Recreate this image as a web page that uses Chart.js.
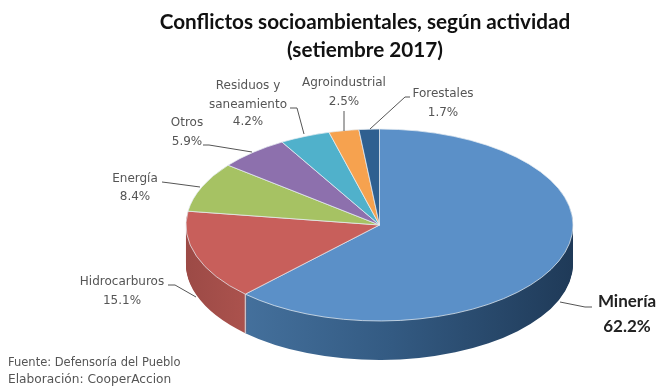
<!DOCTYPE html>
<html>
<head>
<meta charset="utf-8">
<style>
html,body{margin:0;padding:0;background:#fff}
#wrap{position:relative;width:661px;height:386px}
</style>
<script src="https://cdn.jsdelivr.net/npm/chart.js@4"></script>
</head>
<body>
<div id="wrap"><canvas id="c" width="661" height="386"></canvas></div>
<script>
// Conflict shares by activity, clockwise from twelve o'clock
const categories = ['Minería','Hidrocarburos','Energía','Otros','Residuos y saneamiento','Agroindustrial','Forestales'];
const shares = [62.2,15.1,8.4,5.9,4.2,2.5,1.7];
const topColors = ['#5b90c8','#c85f5b','#a6c263','#8d70ad','#50b1cb','#f6a24f','#2f6090'];
const titleLines = ['Conflictos socioambientales, según actividad','(setiembre 2017)'];
const footerLines = ['Fuente: Defensoría del Pueblo','Elaboración: CooperAccion'];

// Tilted-disc projection
const squash = 0.496;
const radius = 193.5;
const centerX = 379.5;
const centerY = 225;
const thickness = 39;

const labelFont = '12px "DejaVu Sans"';
const labelInk = '#555555';
const calloutLayout = [
  {lines:['Minería'], at:[627,302], valueAt:[627,327], strong:true, leader:[[592,307],[585,307],[560,302]]},
  {lines:['Hidrocarburos'], at:[122,282], valueAt:[122,301], leader:[[168,285],[175,285],[196,297]]},
  {lines:['Energía'], at:[135,179], valueAt:[135,197], leader:[[162,182],[170,183],[200,187]]},
  {lines:['Otros'], at:[187,123], valueAt:[187,142], leader:[[203,145],[209,145],[252,152]]},
  {lines:['Residuos y','saneamiento'], at:[248,86], valueAt:[248,122], leader:[[290,108],[297,108],[304,134]]},
  {lines:['Agroindustrial'], at:[344,83], valueAt:[344,102], leader:[[344,111],[344,131]]},
  {lines:['Forestales'], at:[443,94], valueAt:[443,113], leader:[[410,97],[405,97],[370,129]]}
];

function project(ctx, chart){
  const arc = chart.getDatasetMeta(0).data[0];
  ctx.translate(0, centerY);
  ctx.scale(1, squash);
  ctx.translate(0, -arc.y);
}

const tiltedDisc = {
  id:'tiltedDisc',
  beforeDatasetsDraw(chart){
    const ctx = chart.ctx;
    const arcs = chart.getDatasetMeta(0).data;

    // Side wall: the first two slices face the viewer
    const blueWall = ctx.createLinearGradient(245,0,573,0);
    blueWall.addColorStop(0,'#44709c');
    blueWall.addColorStop(0.45,'#335a82');
    blueWall.addColorStop(1,'#1f3a58');
    const redWall = ctx.createLinearGradient(186,0,245,0);
    redWall.addColorStop(0,'#9c4a46');
    redWall.addColorStop(1,'#ab524d');
    const walls = [blueWall, redWall];

    for(let dy = thickness; dy > 0; dy -= 1){
      ctx.save();
      ctx.translate(0, dy);
      project(ctx, chart);
      [0,1].forEach(i=>{
        const a = arcs[i];
        const keep = a.options;
        a.options = Object.assign({}, keep, {backgroundColor:walls[i], borderColor:walls[i], borderWidth:0});
        a.draw(ctx);
        a.options = keep;
      });
      ctx.restore();
    }

    // Seam where the two wall sections meet
    const seam = arcs[0];
    const sx = seam.x + seam.outerRadius*Math.cos(seam.endAngle);
    const sy = centerY + seam.outerRadius*Math.sin(seam.endAngle)*squash;
    ctx.save();
    ctx.strokeStyle = '#d8dfe6';
    ctx.lineWidth = 1;
    ctx.beginPath();
    ctx.moveTo(sx, sy);
    ctx.lineTo(sx, sy+thickness);
    ctx.stroke();
    ctx.restore();

    ctx.save();
    project(ctx, chart);
  },
  afterDatasetsDraw(chart){
    chart.ctx.restore();
  }
};

const annotations = {
  id:'annotations',
  afterDraw(chart){
    const ctx = chart.ctx;
    ctx.save();
    ctx.textAlign = 'center';
    ctx.textBaseline = 'middle';

    ctx.fillStyle = '#111111';
    ctx.font = 'bold 20.7px Lato';
    ctx.fillText(titleLines[0], 365, 22);
    ctx.fillText(titleLines[1], 365, 50);

    ctx.strokeStyle = '#555555';
    ctx.lineWidth = 1;
    calloutLayout.forEach((c,i)=>{
      ctx.beginPath();
      c.leader.forEach((p,k)=> k ? ctx.lineTo(p[0],p[1]) : ctx.moveTo(p[0],p[1]));
      ctx.stroke();
      ctx.font = c.strong ? 'bold 17px Lato' : labelFont;
      ctx.fillStyle = c.strong ? '#222222' : labelInk;
      c.lines.forEach((t,k)=> ctx.fillText(t, c.at[0], c.at[1]+k*19));
      ctx.fillText(shares[i].toFixed(1)+'%', c.valueAt[0], c.valueAt[1]);
    });

    ctx.textAlign = 'left';
    ctx.fillStyle = labelInk;
    ctx.font = '11.5px "DejaVu Sans"';
    ctx.fillText(footerLines[0], 8, 363);
    ctx.font = '12.2px "DejaVu Sans"';
    ctx.fillText(footerLines[1], 8, 380);
    ctx.restore();
  }
};

new Chart(document.getElementById('c'), {
  type:'pie',
  data:{labels:categories, datasets:[{
    data:shares,
    backgroundColor:topColors,
    borderColor:'#e6ecf2',
    borderWidth:1,
    clip:false
  }]},
  options:{
    responsive:false,
    animation:false,
    radius:radius,
    layout:{padding:{left:centerX*2-661,right:0,top:0,bottom:0}},
    plugins:{legend:{display:false},tooltip:{enabled:false},title:{display:false}}
  },
  plugins:[tiltedDisc, annotations]
});
</script>
</body>
</html>
